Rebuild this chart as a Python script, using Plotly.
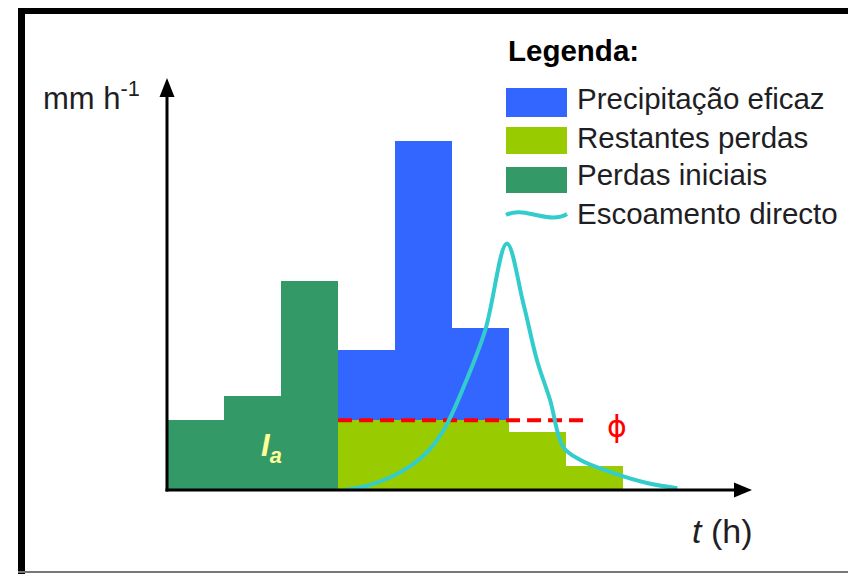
import plotly.graph_objects as go

# ---------------- data ----------------
periods = [0.5, 1.5, 2.5, 3.5, 4.5, 5.5, 6.5, 7.5]          # centre of each 1-h block
perdas_iniciais = [2.0, 2.7, 6.0, 0, 0, 0, 0, 0]
restantes_perdas = [0, 0, 0, 2.0, 2.0, 2.0, 1.65, 0.7]
precip_eficaz = [0, 0, 0, 2.0, 8.0, 2.65, 0, 0]

phi_t = [3.0, 7.37]
phi_val = [2.0, 2.0]

runoff_t = [3.1, 3.5, 3.9, 4.3, 4.6, 4.88, 5.19, 5.58, 5.96, 6.25, 6.49, 6.72, 6.95, 7.25, 7.82, 8.42, 8.95]
runoff_q = [0.0, 0.12, 0.35, 0.72, 1.15, 1.8, 2.9, 4.57, 7.06, 5.34, 3.71, 2.57, 1.23, 0.86, 0.49, 0.2, 0.05]

legend_labels = ["Precipitação eficaz", "Restantes perdas", "Perdas iniciais", "Escoamento directo"]

# ---------------- styles ----------------
C_BLUE = "#3366FF"
C_LIME = "#99CC00"
C_DKGREEN = "#339966"
C_CYAN = "#33CCCC"
C_RED = "#FF0000"
C_TXT = "#1e1e24"
FONT = "Liberation Sans, Arial, sans-serif"

# page body has an 8px default margin: size the figure so it fills the window
OFF = 8
W_REF, H_REF = 856, 574
L, R, T, B = 167, 104, 78, 84          # plot area in window pixels
XMAX, YMAX = 10.26, 11.8


def px(x):
    return (x - L) / (W_REF - L - R)


def py(y):
    return (H_REF - B - y) / (H_REF - T - B)


fig = go.Figure()
fig.add_trace(go.Bar(x=periods, y=perdas_iniciais, marker=dict(color=C_DKGREEN, line_width=0), width=1.0, name=legend_labels[2]))
fig.add_trace(go.Bar(x=periods, y=restantes_perdas, marker=dict(color=C_LIME, line_width=0), width=1.0, name=legend_labels[1]))
fig.add_trace(go.Bar(x=periods, y=precip_eficaz, marker=dict(color=C_BLUE, line_width=0), width=1.0, name=legend_labels[0]))
fig.add_trace(go.Scatter(x=phi_t, y=phi_val, mode="lines", line=dict(color=C_RED, width=4, dash="14px,7px"), name="phi"))
fig.add_trace(go.Scatter(x=runoff_t, y=runoff_q, mode="lines", line=dict(color=C_CYAN, width=4, shape="spline", smoothing=1.0), name=legend_labels[3]))

shapes = []
# outer frame
shapes.append(dict(type="rect", xref="paper", yref="paper", x0=px(18), x1=px(25), y0=py(580), y1=py(7), fillcolor="black", line_width=0, layer="above"))
shapes.append(dict(type="rect", xref="paper", yref="paper", x0=px(18), x1=px(860), y0=py(14), y1=py(7), fillcolor="black", line_width=0, layer="above"))
shapes.append(dict(type="rect", xref="paper", yref="paper", x0=px(852), x1=px(854), y0=py(580), y1=py(7), fillcolor="#111111", line_width=0, layer="above"))
shapes.append(dict(type="rect", xref="paper", yref="paper", x0=px(18), x1=px(856), y0=py(573), y1=py(571), fillcolor="#777777", line_width=0, layer="above"))

# axes with arrowheads (window-pixel geometry)
ox, oy = 167, 490
shapes.append(dict(type="line", xref="paper", yref="paper", x0=px(ox), x1=px(ox), y0=py(oy + 1.5), y1=py(94),
                   line=dict(color="black", width=3), layer="above"))
shapes.append(dict(type="line", xref="paper", yref="paper", x0=px(ox - 1.5), x1=px(738), y0=py(oy), y1=py(oy),
                   line=dict(color="black", width=3), layer="above"))
shapes.append(dict(type="path", xref="paper", yref="paper",
                   path="M {},{} L {},{} L {},{} Z".format(px(ox), py(78), px(ox - 7.5), py(97), px(ox + 7.5), py(97)),
                   fillcolor="black", line_width=0, layer="above"))
shapes.append(dict(type="path", xref="paper", yref="paper",
                   path="M {},{} L {},{} L {},{} Z".format(px(752), py(oy), px(734), py(oy - 7.5), px(734), py(oy + 7.5)),
                   fillcolor="black", line_width=0, layer="above"))

# legend patches
for (y0, y1, c) in [(88, 117, C_BLUE), (127, 154, C_LIME), (167, 193, C_DKGREEN)]:
    shapes.append(dict(type="rect", xref="paper", yref="paper", x0=px(506), x1=px(567), y0=py(y1), y1=py(y0), fillcolor=c, line_width=0))
# legend wave
wx0, wx1, wy = 506, 567, 215
path = "M {a},{b} C {c},{d} {e},{f} {g},{h} S {i},{j} {k},{l}".format(
    a=px(wx0), b=py(wy),
    c=px(wx0 + 10), d=py(wy - 5), e=px(wx0 + 20), f=py(wy - 2), g=px(wx0 + 30), h=py(wy),
    i=px(wx1 - 10), j=py(wy + 5), k=px(wx1), l=py(wy - 1))
shapes.append(dict(type="path", xref="paper", yref="paper", path=path, line=dict(color=C_CYAN, width=4)))

annotations = []
# axis labels
annotations.append(dict(x=px(41), y=py(96), xref="paper", yref="paper", xanchor="left", yanchor="middle",
                        text="mm h<sup>-1</sup>", showarrow=False, font=dict(family=FONT, size=31, color=C_TXT)))
annotations.append(dict(x=px(722), y=py(531), xref="paper", yref="paper", xanchor="center", yanchor="middle",
                        text="<i>t</i> (h)", showarrow=False, font=dict(family=FONT, size=34, color=C_TXT)))

# in-plot labels
annotations.append(dict(x=1.84, y=1.2, xref="x", yref="y", xanchor="center", yanchor="middle",
                        text="<b><i>I<sub>a</sub></i></b>", showarrow=False, font=dict(family=FONT, size=31, color="#FFFF99")))
annotations.append(dict(x=7.9, y=1.82, xref="x", yref="y", xanchor="center", yanchor="middle",
                        text="ϕ", showarrow=False, font=dict(family="DejaVu Sans", size=30, color=C_RED)))

# legend texts
annotations.append(dict(x=px(506), y=py(51), xref="paper", yref="paper", xanchor="left", yanchor="middle",
                        text="<b>Legenda:</b>", showarrow=False, font=dict(family=FONT, size=29.5, color="black")))
for lbl, yc in zip(legend_labels, [99, 137, 174, 213]):
    annotations.append(dict(x=px(575), y=py(yc), xref="paper", yref="paper", xanchor="left", yanchor="middle",
                            text=lbl, showarrow=False, font=dict(family=FONT, size=29.5, color=C_TXT)))

fig.update_layout(
    width=W_REF - OFF, height=H_REF - OFF,
    margin=dict(l=L - OFF, r=R, t=T - OFF, b=B, pad=0),
    paper_bgcolor="white", plot_bgcolor="white",
    barmode="stack", bargap=0,
    showlegend=False,
    xaxis=dict(range=[0, XMAX], visible=False, fixedrange=True),
    yaxis=dict(range=[0, YMAX], visible=False, fixedrange=True),
    shapes=shapes, annotations=annotations,
)

fig.write_html("out.html")
